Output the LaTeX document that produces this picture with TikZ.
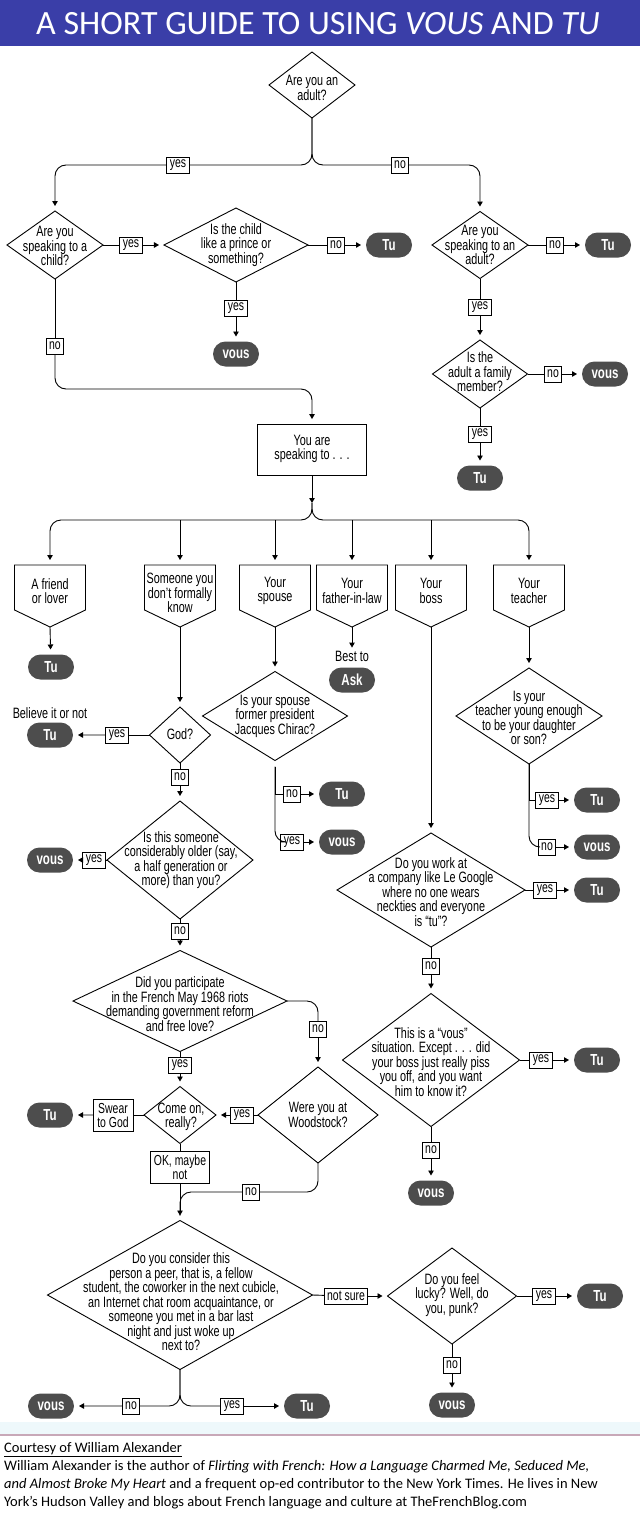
\documentclass[tikz,border=0pt]{standalone}
\usepackage{fontspec}
\setmainfont{Liberation Sans}[FakeStretch=0.72]
\newfontfamily\titlefont{Carlito}
\usetikzlibrary{arrows.meta,shapes.geometric,shapes.misc,calc}
\definecolor{titleblue}{RGB}{58,62,168}
\definecolor{pillgray}{RGB}{77,77,77}
\definecolor{bandcyan}{RGB}{238,248,251}
\definecolor{mauve}{RGB}{200,168,184}
\newcommand\pentdraw[1]{\draw[ln] (#1.north west) -- (#1.north east) -- ([yshift=17pt]#1.south east) -- (#1.south) -- ([yshift=17pt]#1.south west) -- cycle;}
\begin{document}
\begin{tikzpicture}[x=1pt,y=-1pt,
 ln/.style={line width=0.9pt, draw=black},
 arr/.style={ln, -{Triangle[length=5pt,width=5.5pt]}},
 arrs/.style={arr, shorten >=5pt},
 rc/.style={rounded corners=11pt},
 dmd/.style={shape=diamond, draw, line width=0.9pt, inner sep=0pt, outer sep=0pt},
 txt/.style={align=center, inner sep=0pt, font=\fontsize{15}{14.5}\selectfont},
 lab/.style={draw, fill=white, line width=0.8pt, inner xsep=3pt, inner ysep=1pt, minimum height=16pt, outer sep=0pt, align=center, font=\fontsize{14.5}{14}\selectfont},
 pill/.style={shape=rounded rectangle, fill=pillgray, text=white, minimum width=46pt, minimum height=25pt, inner sep=0pt, outer sep=0pt, font=\bfseries\fontsize{16}{16}\selectfont},
 pframe/.style={shape=rectangle, minimum width=71pt, minimum height=62pt, inner sep=0pt, outer sep=0pt},
 foot/.style={anchor=base west, inner sep=0pt, font=\titlefont\fontsize{14.5}{17}\selectfont},
]
\useasboundingbox (0,0) rectangle (640,1523);
% title
\fill[titleblue] (0,0) rectangle (640,46);
\node[anchor=base, inner sep=0pt, text=white, font=\titlefont\fontsize{34}{36}\selectfont] (title) at (318,34) {A SHORT GUIDE TO USING \textit{VOUS} AND \textit{TU}};

% ---------- top section ----------
\node[dmd, minimum width=86pt, minimum height=66pt] (adult) at (312,85) {};
\node[txt] (adult-t) at (312,88) {Are you an\\adult?};
\node[lab] (yes1) at (178,165) {yes};
\node[lab] (no1) at (400,165) {no};

\node[dmd, minimum width=96pt, minimum height=68pt] (child) at (55,245) {};
\node[txt] (child-t) at (55,246) {Are you\\speaking to a\\child?};
\node[lab] (yes2) at (131,245) {yes};
\node[dmd, minimum width=144pt, minimum height=74pt] (prince) at (236,245) {};
\node[txt] (prince-t) at (236,245) {Is the child\\like a prince or\\something?};
\node[lab] (no2) at (336,245) {no};
\node[pill] (tu1) at (389,245) {Tu};
\node[lab] (yes3) at (236,308) {yes};
\node[pill] (vous1) at (236,354) {vous};

\node[dmd, minimum width=96pt, minimum height=67pt] (adultR) at (480,245) {};
\node[txt] (adultR-t) at (480,245) {Are you\\speaking to an\\adult?};
\node[lab] (no3) at (555,245) {no};
\node[pill] (tu2) at (608,245) {Tu};
\node[lab] (yes4) at (480,307) {yes};
\node[dmd, minimum width=95pt, minimum height=68pt] (family) at (480,374) {};
\node[txt] (family-t) at (480,372) {Is the\\adult a family\\member?};
\node[lab] (no4) at (553,374) {no};
\node[pill] (vous2) at (605,374) {vous};
\node[lab] (yes5) at (480,434) {yes};
\node[pill] (tu3) at (480,478) {Tu};

\node[lab] (no5) at (55,346) {no};
\coordinate (bend1) at (312,389);
\node[draw, line width=0.9pt, minimum width=109pt, minimum height=51pt, inner sep=0pt] (speak) at (312,450) {};
\node[txt] (speak-t) at (312,449) {You are\\speaking to . . .};
\coordinate (jn) at (312,503);

\draw[ln, rc] (adult.south) |- (yes1);
\draw[arrs, rc] (yes1) -| (child);
\draw[ln, rc] (adult.south) |- (no1);
\draw[arrs, rc] (no1) -| (adultR);
\draw[ln] (child.east) -- (yes2);
\draw[arrs] (yes2) -- (prince);
\draw[ln] (prince.east) -- (no2);
\draw[arrs] (no2) -- (tu1);
\draw[ln] (prince.south) -- (yes3);
\draw[arrs] (yes3) -- (vous1);
\draw[ln] (adultR.east) -- (no3);
\draw[arrs] (no3) -- (tu2);
\draw[ln] (adultR.south) -- (yes4);
\draw[arrs] (yes4) -- (family);
\draw[ln] (family.east) -- (no4);
\draw[arrs] (no4) -- (vous2);
\draw[ln] (family.south) -- (yes5);
\draw[arrs] (yes5) -- (tu3);
\draw[ln] (child.south) -- (no5);
\draw[arrs, rc] (no5) |- (bend1) -- (speak);
\draw[arr] (speak.south) -- (jn);

% ---------- row of pentagons ----------
\node[pframe] (friend) at (50,596) {};
\node[pframe] (someone) at (180,596) {};
\node[pframe] (spouse) at (275,596) {};
\node[pframe] (father) at (352,596) {};
\node[pframe] (boss) at (431,596) {};
\node[pframe] (teacher) at (529,596) {};
\pentdraw{friend}\pentdraw{someone}\pentdraw{spouse}\pentdraw{father}\pentdraw{boss}\pentdraw{teacher}
\node[txt] (friend-t) at (50,591) {A friend\\or lover};
\node[txt] (someone-t) at (180,593) {Someone you\\don’t formally\\know};
\node[txt] (spouse-t) at (275,591) {Your\\spouse};
\node[txt] (father-t) at (352,591) {Your\\father-in-law};
\node[txt] (boss-t) at (431,591) {Your\\boss};
\node[txt] (teacher-t) at (529,591) {Your\\teacher};

\coordinate (hL) at (50,520);
\coordinate (hR) at (529,520);
\coordinate (d1) at (180,520);
\coordinate (d2) at (275,520);
\coordinate (d3) at (352,520);
\coordinate (d4) at (431,520);
\draw[arrs, rc] (jn) |- (hL) -- (friend);
\draw[arrs, rc] (jn) |- (hR) -- (teacher);
\draw[arrs] (d1) -- (someone);
\draw[arrs] (d2) -- (spouse);
\draw[arrs] (d3) -- (father);
\draw[arrs] (d4) -- (boss);

% friend / father
\node[pill] (tuF) at (51,667) {Tu};
\draw[arrs] (friend.south) -- (tuF);
\node[txt] (bestto) at (352,656) {Best to};
\node[pill] (ask) at (352,680) {Ask};
\draw[arrs, shorten >=3pt] (father.south) -- (bestto);

% someone branch
\node[dmd, minimum width=61pt, minimum height=56pt] (god) at (180,735) {};
\node[txt] (god-t) at (180,734) {God?};
\draw[arrs] (someone.south) -- (god);
\node[lab] (yes6) at (117,735) {yes};
\node[pill] (tuG) at (50,735) {Tu};
\node[txt] (bion) at (50,713) {Believe it or not};
\draw[ln] (god.west) -- (yes6);
\draw[arrs] (yes6) -- (tuG);
\node[lab] (no6) at (180,777) {no};
\draw[ln] (god.south) -- (no6);
\node[dmd, minimum width=146pt, minimum height=118pt] (older) at (180,860) {};
\node[txt] (older-t) at (181,860) {Is this someone\\considerably older (say,\\a half generation or\\more) than you?};
\draw[arrs] (no6) -- (older);
\node[lab] (yes7) at (94,860) {yes};
\node[pill] (vousO) at (50,860) {vous};
\draw[ln] (older.west) -- (yes7);
\draw[arrs] (yes7) -- (vousO);
\node[lab] (no7) at (180,931) {no};
\draw[ln] (older.south) -- (no7);

\node[dmd, minimum width=214pt, minimum height=101pt] (m68) at (180,1001) {};
\node[txt] (m68-t) at (180,1004) {Did you participate\\in the French May 1968 riots\\demanding government reform\\and free love?};
\draw[arrs] (no7) -- (m68);
\node[lab] (no8) at (318,1029) {no};
\draw[ln, rc] (m68.east) -| (no8);
\node[dmd, minimum width=120pt, minimum height=96pt] (wood) at (318,1115) {};
\node[txt] (wood-t) at (318,1115) {Were you at\\Woodstock?};
\draw[arrs] (no8) -- (wood);
\node[lab] (yes8) at (180,1065) {yes};
\draw[ln] (m68.south) -- (yes8);
\node[dmd, minimum width=72pt, minimum height=57pt] (come) at (180,1115) {};
\node[txt] (come-t) at (181,1117) {Come on,\\really?};
\draw[arrs] (yes8) -- (come);
\node[lab] (yes9) at (242,1115) {yes};
\draw[ln] (wood.west) -- (yes9);
\draw[arrs] (yes9) -- (come);
\node[lab, minimum width=40pt, minimum height=32pt, inner ysep=0pt] (swear) at (113,1115) {Swear\\to God};
\node[pill] (tuC) at (50,1115) {Tu};
\draw[ln] (come.west) -- (swear);
\draw[arrs] (swear) -- (tuC);
\node[lab, minimum width=59pt, minimum height=32pt, inner ysep=0pt] (ok) at (180,1167) {OK, maybe\\not};
\draw[ln] (come.south) -- (ok);
\node[lab] (no9) at (251,1192) {no};
\draw[ln, rc] (wood.south) |- (no9);

% peer
\node[dmd, minimum width=265pt, minimum height=149pt] (peer) at (180,1295) {};
\node[txt] (peer-t) at (181,1302) {Do you consider this\\person a peer, that is, a fellow\\student, the coworker in the next cubicle,\\an Internet chat room acquaintance, or\\someone you met in a bar last\\night and just woke up\\next to?};
\draw[arrs] (ok.south) -- (peer);
\draw[ln, rc, shorten >=5pt] (no9) -| (peer.north);
\node[lab] (notsure) at (346,1296) {not sure};
\draw[ln] (peer.east) -- (notsure);
\node[dmd, minimum width=129pt, minimum height=96pt] (lucky) at (452,1296) {};
\node[txt] (lucky-t) at (452,1295) {Do you feel\\lucky? Well, do\\you, punk?};
\draw[arrs] (notsure) -- (lucky);
\node[lab] (yes11) at (544,1296) {yes};
\node[pill] (tuL) at (600,1296) {Tu};
\draw[ln] (lucky.east) -- (yes11);
\draw[arrs] (yes11) -- (tuL);
\node[lab] (no11) at (452,1365) {no};
\node[pill] (vousL) at (452,1405) {vous};
\draw[ln] (lucky.south) -- (no11);
\draw[arrs] (no11) -- (vousL);
\node[lab] (no10) at (131,1406) {no};
\node[lab] (yes10) at (232,1406) {yes};
\node[pill] (vousP) at (51,1406) {vous};
\node[pill] (tuP) at (307,1406) {Tu};
\draw[ln, rc] (peer.south) |- (no10);
\draw[ln, rc] (peer.south) |- (yes10);
\draw[arrs] (no10) -- (vousP);
\draw[arrs] (yes10) -- (tuP);

% spouse branch
\node[dmd, minimum width=145pt, minimum height=89pt] (spouseQ) at (275,716) {};
\node[txt] (spouseQ-t) at (275,716) {Is your spouse\\former president\\Jacques Chirac?};
\draw[arrs] (spouse.south) -- (spouseQ);
\node[lab] (no12) at (292,794) {no};
\node[lab] (yes12) at (292,842) {yes};
\node[pill] (tuS) at (342,794) {Tu};
\node[pill] (vousS) at (342,842) {vous};
\draw[ln, shorten <=6pt] (spouseQ.south) |- (no12);
\draw[ln, rc, shorten <=6pt] (spouseQ.south) |- (yes12);
\draw[arrs] (no12) -- (tuS);
\draw[arrs] (yes12) -- (vousS);

% teacher branch
\node[dmd, minimum width=146pt, minimum height=96pt] (teachQ) at (529,716) {};
\node[txt] (teachQ-t) at (529,718) {Is your\\teacher young enough\\to be your daughter\\or son?};
\draw[arrs] (teacher.south) -- (teachQ);
\node[lab] (yes13) at (547,800) {yes};
\node[lab] (no13) at (547,847) {no};
\node[pill] (tuT) at (597,800) {Tu};
\node[pill] (vousT) at (597,847) {vous};
\draw[ln] (teachQ.south) |- (yes13);
\draw[ln, rc] (teachQ.south) |- (no13);
\draw[arrs] (yes13) -- (tuT);
\draw[arrs] (no13) -- (vousT);

% boss branch
\node[dmd, minimum width=188pt, minimum height=114pt] (google) at (431,890) {};
\node[txt] (google-t) at (431,892) {Do you work at\\a company like Le Google\\where no one wears\\neckties and everyone\\is “tu”?};
\draw[arrs] (boss.south) -- (google);
\node[lab] (yes14) at (545,890) {yes};
\node[pill] (tuGo) at (597,890) {Tu};
\draw[ln] (google.east) -- (yes14);
\draw[arrs] (yes14) -- (tuGo);
\node[lab] (no14) at (431,966) {no};
\draw[ln] (google.south) -- (no14);
\node[dmd, minimum width=177pt, minimum height=133pt] (boss2) at (431,1060) {};
\node[txt] (boss2-t) at (431,1062) {This is a “vous”\\situation. Except . . . did\\your boss just really piss\\you off, and you want\\him to know it?};
\draw[arrs] (no14) -- (boss2);
\node[lab] (yes15) at (541,1060) {yes};
\node[pill] (tuB) at (597,1060) {Tu};
\draw[ln] (boss2.east) -- (yes15);
\draw[arrs] (yes15) -- (tuB);
\node[lab] (no15) at (431,1150) {no};
\node[pill] (vousB) at (431,1193) {vous};
\draw[ln] (boss2.south) -- (no15);
\draw[arrs] (no15) -- (vousB);

% footer
\fill[bandcyan] (0,1422) rectangle (640,1434);
\draw[mauve, line width=1.5pt] (0,1435) -- (640,1435);
\node[foot] (f1) at (4,1452) {\underline{Courtesy of William Alexander}};
\node[foot] (f2) at (4,1470) {William Alexander is the author of \textit{Flirting with French: How a Language Charmed Me, Seduced Me,}};
\node[foot] (f3) at (4,1488) {\textit{and Almost Broke My Heart} and a frequent op-ed contributor to the New York Times. He lives in New};
\node[foot] (f4) at (4,1506) {York’s Hudson Valley and blogs about French language and culture at TheFrenchBlog.com};
\end{tikzpicture}
\end{document}
